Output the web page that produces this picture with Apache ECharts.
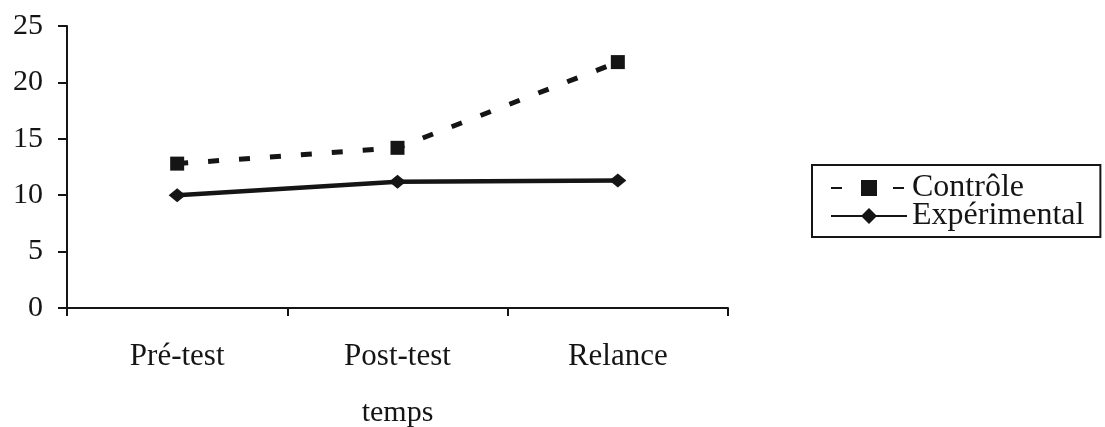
<!DOCTYPE html>
<html>
<head>
<meta charset="utf-8">
<script src="https://cdn.jsdelivr.net/npm/echarts@6/dist/echarts.min.js"></script>
<style>html,body{margin:0;padding:0;background:#fff;}#c{width:1105px;height:427px;}</style>
</head>
<body>
<div id="c"></div>
<script>
const categories = ['Pré-test', 'Post-test', 'Relance'];
const controle = [12.8, 14.2, 21.8];
const experimental = [10.0, 11.2, 11.3];
const seriesNames = ['Contrôle', 'Expérimental'];
const xAxisName = 'temps';

const FONT = '"Liberation Serif", "DejaVu Serif", serif';
const INK = '#151515';

const chart = echarts.init(document.getElementById('c'), null, {renderer: 'canvas'});
chart.setOption({
  animation: false,
  backgroundColor: '#fff',
  grid: {left: 67, right: 377, top: 26, bottom: 119, containLabel: false, outerBoundsMode: 'none'},
  xAxis: {
    type: 'category',
    data: categories,
    boundaryGap: true,
    name: xAxisName,
    nameLocation: 'middle',
    nameGap: 90,
    nameTextStyle: {fontFamily: FONT, fontSize: 30, color: INK},
    axisLine: {lineStyle: {color: INK, width: 2}},
    axisTick: {show: true, inside: false, length: 8, lineStyle: {color: INK, width: 2}},
    axisLabel: {fontFamily: FONT, fontSize: 31, color: INK, margin: 33}
  },
  yAxis: {
    type: 'value',
    min: 0, max: 25, interval: 5,
    axisLine: {show: true, lineStyle: {color: INK, width: 2}},
    axisTick: {show: true, length: 9, lineStyle: {color: INK, width: 2}},
    axisLabel: {fontFamily: FONT, fontSize: 30, color: INK, margin: 24},
    splitLine: {show: false}
  },
  legend: {
    orient: 'vertical',
    left: 812, top: 165,
    padding: [7, 16, 5, 18],
    borderColor: INK, borderWidth: 2,
    itemWidth: 76, itemHeight: 20, itemGap: -4,
    textStyle: {fontFamily: FONT, fontSize: 32, color: INK, lineHeight: 28},
    data: seriesNames
  },
  series: [
    {
      name: seriesNames[0], type: 'line', data: controle,
      symbol: 'rect', symbolSize: 14,
      lineStyle: {color: INK, width: 5, type: [11, 20]},
      itemStyle: {color: INK}
    },
    {
      name: seriesNames[1], type: 'line', data: experimental,
      symbol: 'diamond', symbolSize: [17, 14],
      lineStyle: {color: INK, width: 4.5, type: 'solid'},
      itemStyle: {color: INK}
    }
  ]
});
</script>
</body>
</html>
